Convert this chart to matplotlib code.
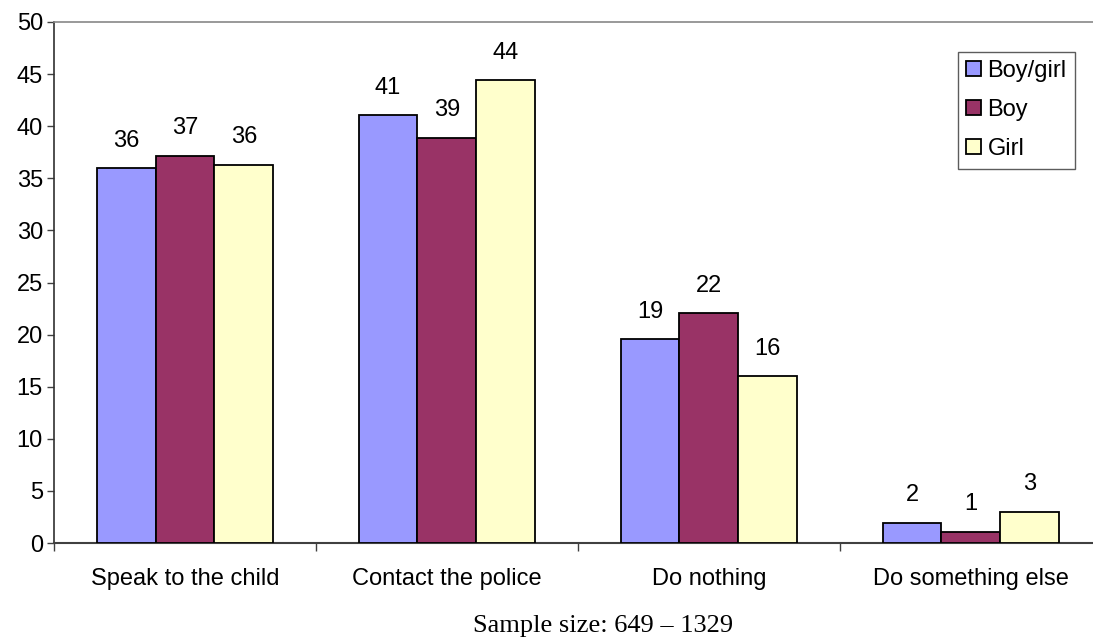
import matplotlib
matplotlib.use("Agg")
import matplotlib.pyplot as plt
import numpy as np

categories = ["Speak to the child", "Contact the police", "Do nothing", "Do something else"]
series_names = ["Boy/girl", "Boy", "Girl"]
boy_girl = [35.95, 41.05, 19.55, 1.95]
boy = [37.15, 38.9, 22.05, 1.05]
girl = [36.3, 44.4, 16.0, 3.0]
boy_girl_labels = ["36", "41", "19", "2"]
boy_labels = ["37", "39", "22", "1"]
girl_labels = ["36", "44", "16", "3"]
colors = ["#9999FF", "#993366", "#FFFFCC"]
yticks = [0, 5, 10, 15, 20, 25, 30, 35, 40, 45, 50]

plt.rcParams['font.family'] = ['Liberation Sans', 'DejaVu Sans']
FS = 17

W, H = 1093, 638
fig = plt.figure(figsize=(W / 100, H / 100), dpi=100)
ax = fig.add_axes([54 / W, 1 - 543 / H, 1 - 54 / W, (543 - 22) / H])

x = np.arange(len(categories))
bw = 0.225
all_vals = [boy_girl, boy, girl]
all_labels = [boy_girl_labels, boy_labels, girl_labels]
for i, (vals, labs) in enumerate(zip(all_vals, all_labels)):
    pos = x + (i - 1) * bw
    bars = ax.bar(pos, vals, width=bw, color=colors[i], edgecolor="black",
                  linewidth=1.3, label=series_names[i], zorder=3)
    for b, lab in zip(bars, labs):
        ax.annotate(lab, (b.get_x() + b.get_width() / 2, b.get_height()),
                    xytext=(0, 12), textcoords="offset points",
                    ha="center", va="bottom", fontsize=FS)

ax.set_ylim(0, 50)
ax.set_xlim(-0.5, 3.466)
ax.set_yticks(yticks)
ax.set_yticklabels([str(t) for t in yticks], fontsize=FS)
ax.tick_params(axis="y", length=5, width=1, color="#404040", pad=3)

ax.set_xticks([-0.5, 0.5, 1.5, 2.5])
ax.set_xticklabels([])
ax.tick_params(axis="x", which="major", length=6, width=1, color="#404040")
ax.set_xticks(x, minor=True)
ax.set_xticklabels(categories, minor=True, fontsize=FS)
ax.tick_params(axis="x", which="minor", length=0, pad=18)

ax.spines["left"].set_color("#303030")
ax.spines["left"].set_linewidth(1.2)
ax.spines["bottom"].set_color("#404040")
ax.spines["bottom"].set_linewidth(1.5)
ax.spines["top"].set_color("#888888")
ax.spines["top"].set_linewidth(1.2)
ax.spines["right"].set_visible(False)

leg = ax.legend(loc="upper right", bbox_to_anchor=((1075 - 54) / (W - 54), (543 - 52) / 521),
                fontsize=FS, frameon=True, fancybox=False, handlelength=0.6,
                handleheight=0.6, handletextpad=0.3, labelspacing=0.72,
                borderpad=0.35, borderaxespad=0)
leg.get_frame().set_edgecolor("#333333")
leg.get_frame().set_linewidth(1.0)

fig.text(603 / W, 1 - 626 / H, "Sample size: 649 \u2013 1329", ha="center", va="center",
         fontsize=19, family=["Liberation Serif", "DejaVu Serif"])

fig.savefig("out.png", dpi=100)
